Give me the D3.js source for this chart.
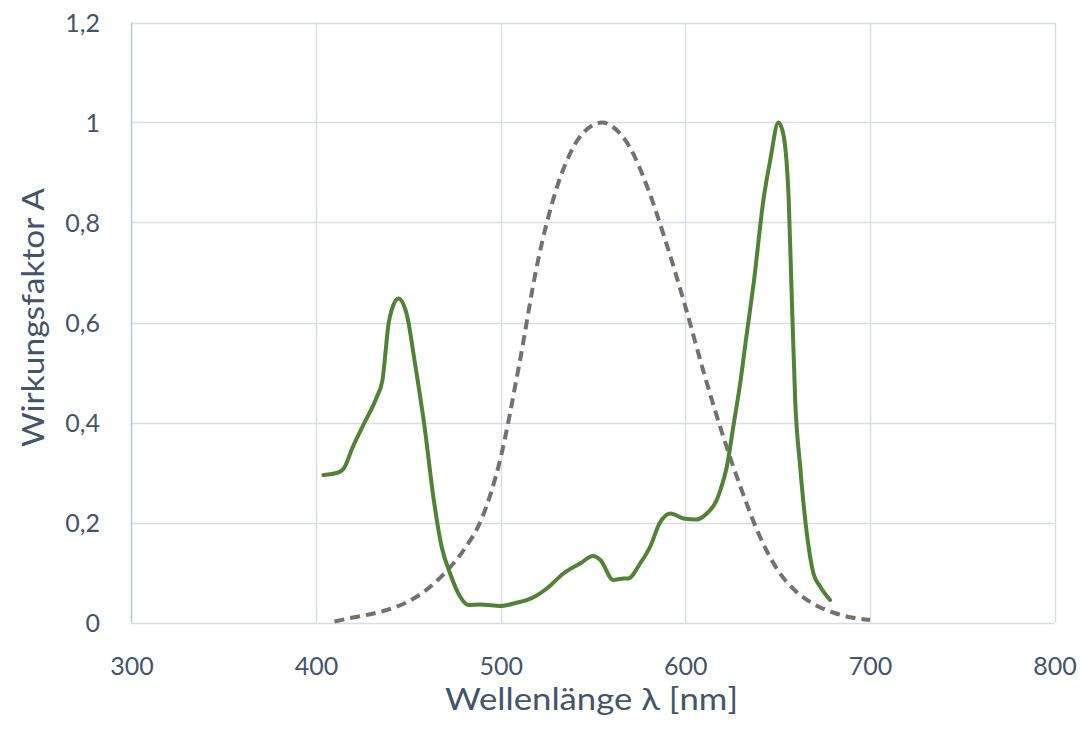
<!DOCTYPE html>
<html><head><meta charset="utf-8">
<script src="https://cdn.jsdelivr.net/npm/d3@7"></script>
<style>body{margin:0;background:#fff}svg{display:block}text{font-family:Lato,"Open Sans",sans-serif;fill:#44546a}</style>
</head><body>
<svg id="c" width="1082" height="736"></svg>
<script>
const xTicks = [300, 400, 500, 600, 700, 800];
const yTicks = [0, 0.2, 0.4, 0.6, 0.8, 1, 1.2];
const yTickLabels = ["0", "0,2", "0,4", "0,6", "0,8", "1", "1,2"];
const xTitle = "Wellenlänge λ [nm]";
const yTitle = "Wirkungsfaktor A";

const greenWl  = [404, 412, 415, 420, 426, 433, 436, 437.4, 439, 441.9, 444.6, 449, 453.6, 459, 463.5, 468, 472.6, 478, 482.5, 489, 500, 507, 518.6, 525, 534, 543, 550, 554, 561, 566.5, 569, 575.5, 581, 586, 592, 599, 606, 611.6, 617, 619, 622.5, 626, 629.7, 633.3, 637, 642.3, 646, 650.4, 653, 656, 657.7, 659.5, 662.2, 665.8, 669.4, 673, 678.4];
const greenVal = [0.295, 0.300, 0.308, 0.352, 0.398, 0.452, 0.485, 0.532, 0.590, 0.635, 0.648, 0.618, 0.518, 0.385, 0.252, 0.152, 0.098, 0.052, 0.035, 0.036, 0.033, 0.038, 0.052, 0.068, 0.098, 0.118, 0.133, 0.125, 0.085, 0.088, 0.088, 0.118, 0.152, 0.198, 0.218, 0.208, 0.206, 0.218, 0.245, 0.265, 0.312, 0.392, 0.478, 0.578, 0.678, 0.845, 0.925, 1.000, 0.978, 0.845, 0.645, 0.445, 0.312, 0.178, 0.098, 0.072, 0.045];

const grayWl  = [410, 420, 430, 440, 450, 460, 470, 480, 490, 500, 510, 520, 530, 540, 550, 555, 560, 570, 580, 590, 600, 610, 620, 630, 640, 650, 660, 670, 680, 690, 700];
const grayVal = [0.002, 0.010, 0.017, 0.027, 0.042, 0.066, 0.100, 0.145, 0.210, 0.330, 0.515, 0.720, 0.865, 0.955, 0.995, 1.000, 0.993, 0.950, 0.865, 0.755, 0.632, 0.500, 0.378, 0.270, 0.175, 0.105, 0.062, 0.036, 0.020, 0.010, 0.005];

const svg = d3.select("#c");
const x = d3.scaleLinear().domain([300, 800]).range([131.4, 1054.6]);
const y = d3.scaleLinear().domain([0, 1.2]).range([622.5, 22.5]);
const FONT = "Lato,'Open Sans',sans-serif";

// grid
const g = svg.append("g");
g.selectAll("line.h").data(yTicks).join("line")
  .attr("x1", x(300)).attr("x2", x(800))
  .attr("y1", d => Math.round(y(d)) + 0.5).attr("y2", d => Math.round(y(d)) + 0.5)
  .attr("stroke", "#d9dee6").attr("stroke-width", 1.5);
g.selectAll("line.v").data(xTicks).join("line")
  .attr("x1", d => Math.round(x(d)) + 0.5).attr("x2", d => Math.round(x(d)) + 0.5)
  .attr("y1", y(0)).attr("y2", y(1.2))
  .attr("stroke", d => d === 300 ? "#b8c3d3" : "#d9dee6").attr("stroke-width", 1.5);

// axes labels
const xa = svg.append("g").attr("transform", `translate(0,${y(0)})`)
  .call(d3.axisBottom(x).tickValues(xTicks).tickSize(0).tickPadding(0).tickFormat(d3.format("d")));
xa.select(".domain").remove();
xa.selectAll("text").attr("dy", null).attr("y", 52.5).attr("font-size", 25)
  .style("font-family", FONT).attr("fill", "#44546a");

const ya = svg.append("g").attr("transform", `translate(100,0)`)
  .call(d3.axisLeft(y).tickValues(yTicks).tickSize(0).tickPadding(0).tickFormat((d, i) => yTickLabels[i]));
ya.select(".domain").remove();
ya.selectAll("text").attr("font-size", 25).attr("dy", "0.36em")
  .style("font-family", FONT).attr("fill", "#44546a");

// titles
svg.append("text").attr("x", 591.5).attr("y", 709.5).attr("text-anchor", "middle")
  .attr("font-size", 30).attr("textLength", 293).attr("lengthAdjust", "spacingAndGlyphs").text(xTitle);
svg.append("text").attr("transform", "translate(44,317.5) rotate(-90)").attr("text-anchor", "middle")
  .attr("font-size", 30).attr("textLength", 259).attr("lengthAdjust", "spacingAndGlyphs").text(yTitle);

// lines
const line = d3.line().x(d => x(d[0])).y(d => y(d[1])).curve(d3.curveMonotoneX);
svg.append("path").datum(grayWl.map((w, i) => [w, grayVal[i]]))
  .attr("d", line).attr("fill", "none").attr("stroke", "#767171")
  .attr("stroke-width", 4).attr("stroke-dasharray", "10,6");
svg.append("path").datum(greenWl.map((w, i) => [w, greenVal[i]]))
  .attr("d", line).attr("fill", "none").attr("stroke", "#538135")
  .attr("stroke-width", 4).attr("stroke-linejoin", "round").attr("stroke-linecap", "round");
</script>
</body></html>
